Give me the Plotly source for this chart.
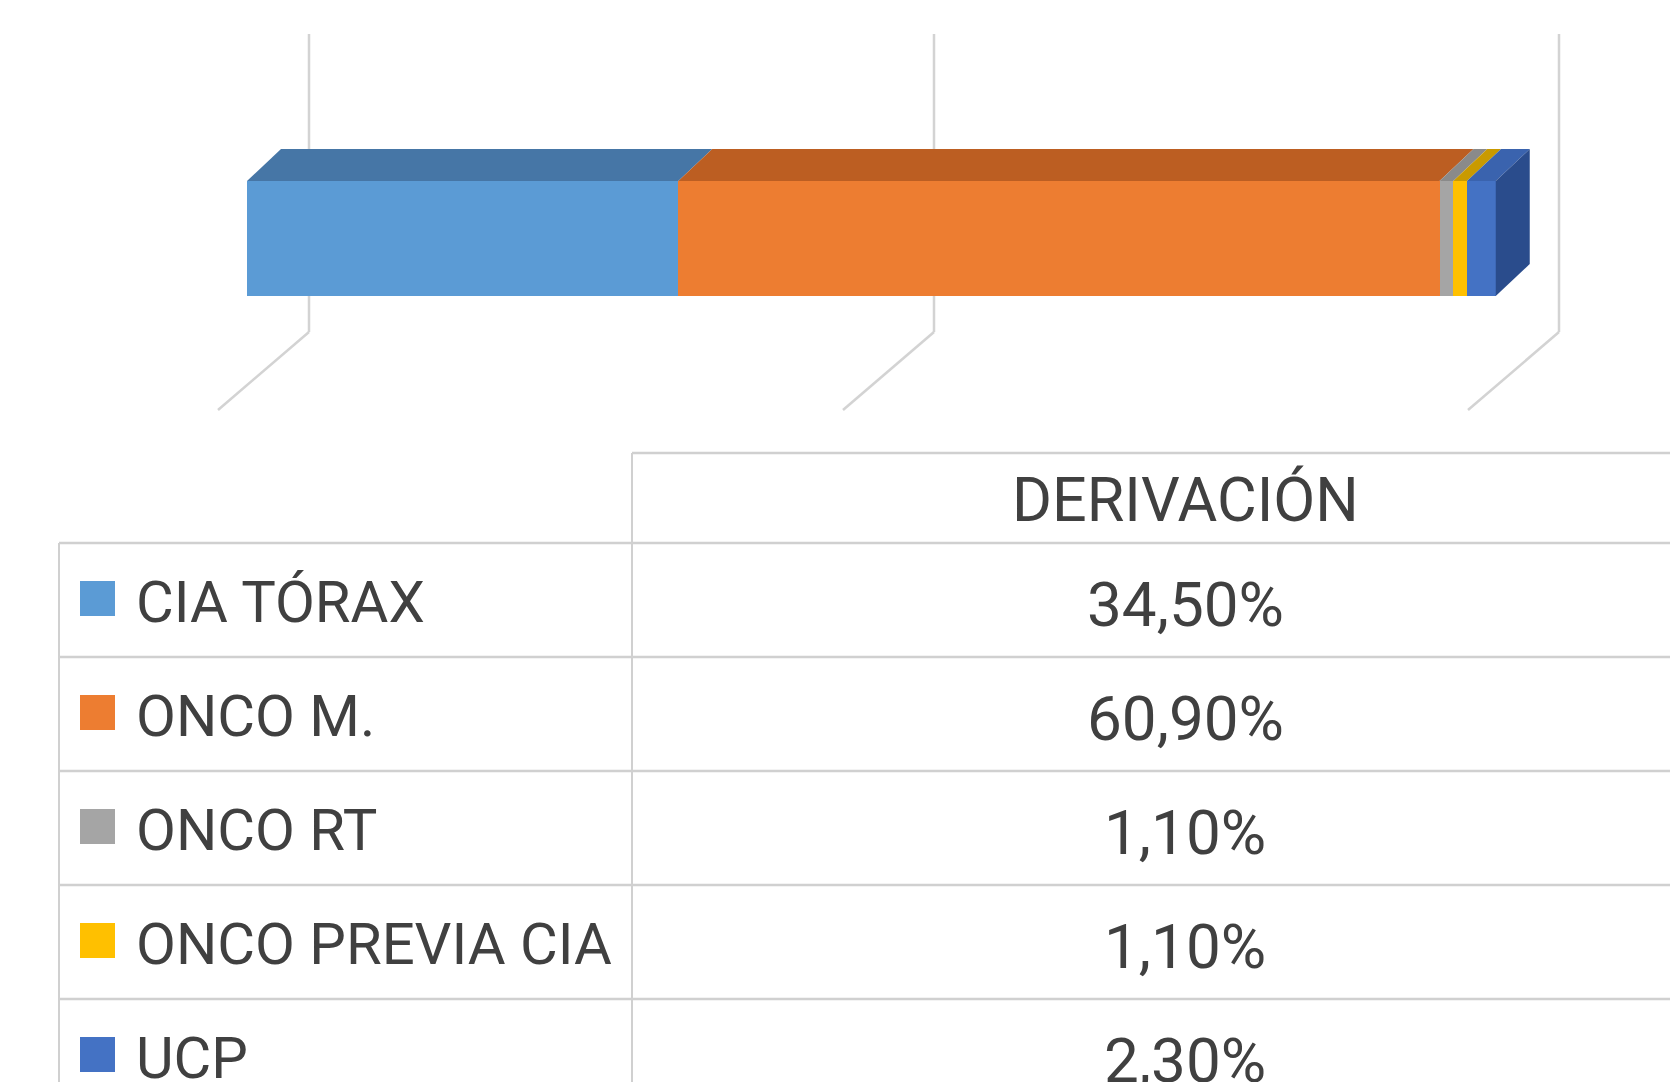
import plotly.graph_objects as go

# ---- data ----
categories = ["CIA TÓRAX", "ONCO M.", "ONCO RT", "ONCO PREVIA CIA", "UCP"]
values = [34.5, 60.9, 1.1, 1.1, 2.3]
value_labels = ["34,50%", "60,90%", "1,10%", "1,10%", "2,30%"]
series_name = "DERIVACIÓN"
grid_ticks = [0, 50, 100]

front_colors = ["#5B9BD5", "#ED7D31", "#A5A5A5", "#FFC000", "#4472C4"]
top_colors = ["#4676A6", "#BC5E22", "#8A8A8A", "#C99A00", "#3A63AE"]
side_color = "#2A4C8C"

W, H = 1670, 1082
PX_PER_PCT = 12.5
X0_BACK = 309
FONT = "Roboto, sans-serif"

# geometry (pixels)
front_off = (X0_BACK - 247) / PX_PER_PCT  # front face shift left vs back wall
depth_dx = 34 / PX_PER_PCT
depth_dy = 32
bar_top, bar_bot = 181, 296
grid_top, grid_bot = 34, 332
floor_dx = 91 / PX_PER_PCT
floor_dy = 78

fig = go.Figure()
shapes = []

# back-wall gridlines + floor diagonals (behind the bar)
for t in grid_ticks:
    shapes.append(dict(type="line", xref="x", yref="y", layer="below",
                       x0=t, x1=t, y0=grid_top, y1=grid_bot,
                       line=dict(color="#D3D3D3", width=2.5)))
    shapes.append(dict(type="line", xref="x", yref="y", layer="below",
                       x0=t, x1=t - floor_dx, y0=grid_bot, y1=grid_bot + floor_dy,
                       line=dict(color="#D3D3D3", width=2.5)))

# front faces
cum = 0
for cat, v, c in zip(categories, values, front_colors):
    fig.add_trace(go.Bar(
        x=[v], base=[cum - front_off], y=[(bar_top + bar_bot) / 2],
        width=[bar_bot - bar_top], orientation="h",
        marker=dict(color=c, line=dict(width=0)), name=cat, showlegend=False))
    cum += v

# top faces
cum = 0
for v, c in zip(values, top_colors):
    x0 = cum - front_off
    x1 = cum + v - front_off
    fig.add_trace(go.Scatter(
        x=[x0, x1, x1 + depth_dx, x0 + depth_dx, x0],
        y=[bar_top, bar_top, bar_top - depth_dy, bar_top - depth_dy, bar_top],
        mode="lines", fill="toself", fillcolor=c, line=dict(width=0, color=c),
        hoverinfo="skip", showlegend=False))
    cum += v

# right side face
xe = cum - front_off
fig.add_trace(go.Scatter(
    x=[xe, xe + depth_dx, xe + depth_dx, xe, xe],
    y=[bar_top, bar_top - depth_dy, bar_bot - depth_dy, bar_bot, bar_top],
    mode="lines", fill="toself", fillcolor=side_color, line=dict(width=0, color=side_color),
    hoverinfo="skip", showlegend=False))

# ---- data table (pixel layout) ----
annotations = []
line_c = "#D0D0D0"
tbl_left, col_div = 59, 632
hdr_top, hdr_bot = 453, 543
row_h = 114
n = len(categories)

def px(x):
    return x / W

shapes.append(dict(type="line", xref="paper", yref="y", x0=px(col_div), x1=1.0,
                   y0=hdr_top, y1=hdr_top, line=dict(color=line_c, width=2.5)))
for i in range(n + 1):
    yy = hdr_bot + i * row_h
    shapes.append(dict(type="line", xref="paper", yref="y", x0=px(tbl_left), x1=1.0,
                       y0=yy, y1=yy, line=dict(color=line_c, width=2.5)))
shapes.append(dict(type="line", xref="paper", yref="y", x0=px(col_div), x1=px(col_div),
                   y0=hdr_top, y1=H + 10, line=dict(color=line_c, width=2)))
shapes.append(dict(type="line", xref="paper", yref="y", x0=px(tbl_left), x1=px(tbl_left),
                   y0=hdr_bot, y1=H + 10, line=dict(color=line_c, width=2)))

val_cx = 1185
annotations.append(dict(xref="paper", yref="y", x=px(val_cx), y=(hdr_top + hdr_bot) / 2 + 2,
                        text=series_name, showarrow=False, xanchor="center", yanchor="middle",
                        font=dict(family=FONT, size=61, color="#404040")))
for i, (cat, lab, c) in enumerate(zip(categories, value_labels, front_colors)):
    cy = hdr_bot + i * row_h + row_h / 2
    shapes.append(dict(type="rect", xref="paper", yref="y", x0=px(80), x1=px(115),
                       y0=cy - 19, y1=cy + 16, fillcolor=c, line=dict(width=0)))
    annotations.append(dict(xref="paper", yref="y", x=px(134), y=cy + 2, text=cat,
                            showarrow=False, xanchor="left", yanchor="middle",
                            font=dict(family=FONT, size=58, color="#404040")))
    annotations.append(dict(xref="paper", yref="y", x=px(val_cx), y=cy + 4, text=lab,
                            showarrow=False, xanchor="center", yanchor="middle",
                            font=dict(family=FONT, size=62, color="#404040")))

fig.update_layout(
    width=W, height=H, margin=dict(l=0, r=0, t=0, b=0),
    paper_bgcolor="white", plot_bgcolor="rgba(0,0,0,0)",
    barmode="overlay", bargap=0,
    xaxis=dict(range=[-X0_BACK / PX_PER_PCT, (W - X0_BACK) / PX_PER_PCT],
               visible=False, fixedrange=True),
    yaxis=dict(range=[H, 0], visible=False, fixedrange=True),
    shapes=shapes, annotations=annotations, showlegend=False,
)

fig.write_html("out.html", config={"displayModeBar": False},
               post_script="document.body.style.margin='0';document.body.style.overflow='hidden';")
